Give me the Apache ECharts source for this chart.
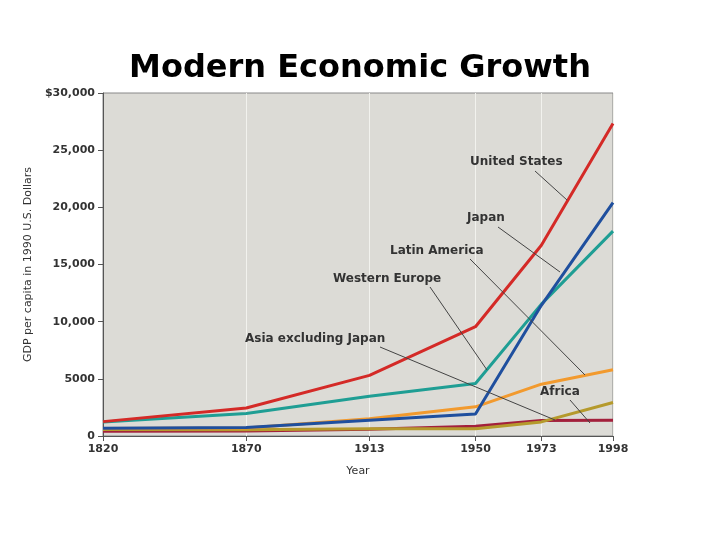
<!DOCTYPE html>
<html><head><meta charset="utf-8">
<script src="https://cdn.jsdelivr.net/npm/echarts@6/dist/echarts.min.js"></script>
<style>body{margin:0;background:#fff}#chart{width:720px;height:539px}</style>
</head><body><div id="chart"></div>
<script>
var years = [1820, 1870, 1913, 1950, 1973, 1998];
var unitedStates = [1257, 2445, 5301, 9561, 16689, 27331];
var westernEurope = [1232, 1974, 3473, 4594, 11534, 17921];
var japan = [669, 737, 1387, 1921, 11434, 20413];
var latinAmerica = [665, 698, 1511, 2554, 4531, 5795];
var asiaExJapan = [575, 543, 640, 635, 1231, 2936];
var africa = [418, 444, 585, 852, 1365, 1368];
var yTicks = [0, 5000, 10000, 15000, 20000, 25000, 30000];

function pts(v) { return years.map(function (y, i) { return [y, v[i]]; }); }
function line(name, v, color) {
    return { name: name, type: 'line', data: pts(v), symbol: 'none',
        lineStyle: { color: color, width: 3 }, z: 3 };
}
var myChart = echarts.init(document.getElementById('chart'));
var lbl = { font: 'bold 12px "DejaVu Sans"', fill: '#333' };
function note(text, x, y, x1, y1, x2, y2) {
    return [
        { type: 'text', left: x, top: y, style: Object.assign({ text: text }, lbl), z: 10 },
        { type: 'line', shape: { x1: x1, y1: y1, x2: x2, y2: y2 }, style: { stroke: '#444', lineWidth: 1 }, z: 10 }
    ];
}
option = {
    title: { text: 'Modern Economic Growth', left: 'center', top: 48,
        textStyle: { fontFamily: 'DejaVu Sans', fontWeight: 'bold', fontSize: 32, color: '#000' } },
    grid: { left: 103, right: 107, top: 93, bottom: 103, show: true, backgroundColor: '#dcdbd6', borderColor: '#888', borderWidth: 1 },
    xAxis: { type: 'value', min: 1820, max: 1998, name: 'Year', nameLocation: 'middle', nameGap: 30,
        nameTextStyle: { fontFamily: 'DejaVu Sans', fontSize: 11, color: '#333' },
        axisLine: { lineStyle: { color: '#555' } },
        axisTick: { customValues: years, lineStyle: { color: '#555' } },
        axisLabel: { customValues: years, formatter: function (v) { return String(v); },
            fontFamily: 'DejaVu Sans', fontSize: 11, fontWeight: 'bold', color: '#333', margin: 8 },
        splitLine: { show: true, lineStyle: { color: '#f2f2ee', width: 1 } } },
    yAxis: { type: 'value', min: 0, max: 30000, interval: 5000,
        name: 'GDP per capita in 1990 U.S. Dollars', nameLocation: 'middle', nameGap: 60, nameRotate: 90,
        nameTextStyle: { fontFamily: 'DejaVu Sans', fontSize: 11, color: '#333' },
        axisLine: { show: true, lineStyle: { color: '#555' } }, axisTick: { show: true, lineStyle: { color: '#555' } },
        axisLabel: { fontFamily: 'DejaVu Sans', fontSize: 11, fontWeight: 'bold', color: '#333',
            formatter: function (v) { return v === 30000 ? '$30,000' : (v >= 10000 ? v.toLocaleString('en-US') : String(v)); } },
        splitLine: { show: false } },
    series: [
        line('Africa', africa, '#a3203c'),
        line('Asia excluding Japan', asiaExJapan, '#b59a2c'),
        line('Latin America', latinAmerica, '#f29a2e'),
        line('Western Europe', westernEurope, '#1f9e94'),
        line('Japan', japan, '#1f4f9e'),
        line('United States', unitedStates, '#d42a27')
    ],
    graphic: [].concat(
        note('United States', 470, 156, 535, 171, 567, 200),
        note('Japan', 467, 212, 498, 227, 560, 272),
        note('Latin America', 390, 245, 470, 259, 585, 375),
        note('Western Europe', 333, 273, 430, 287, 487, 370),
        note('Asia excluding Japan', 245, 333, 380, 347, 555, 420),
        note('Africa', 540, 386, 570, 400, 590, 423)
    )
};
myChart.setOption(option);
</script></body></html>
